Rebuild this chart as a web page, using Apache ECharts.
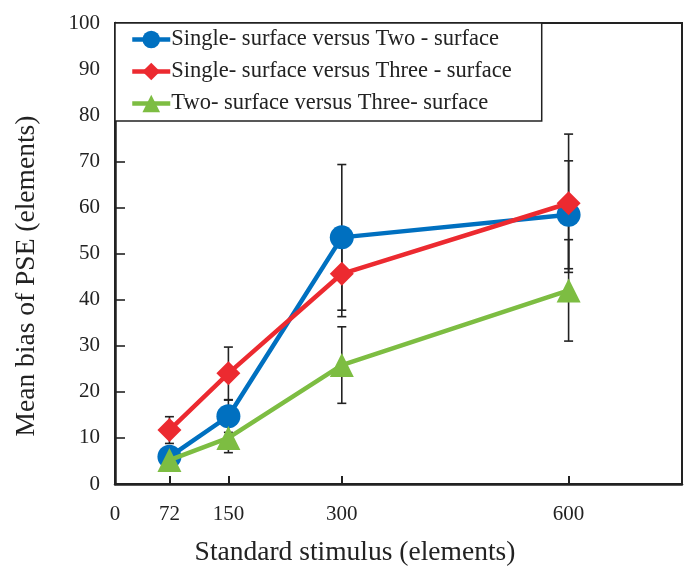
<!DOCTYPE html>
<html>
<head>
<meta charset="utf-8">
<script src="https://cdn.jsdelivr.net/npm/echarts@6/dist/echarts.min.js"></script>
<style>html,body{margin:0;padding:0;background:#fff}#c{width:690px;height:570px}</style>
</head>
<body>
<div id="c"></div>
<script>
const xValues = [72, 150, 300, 600];
const xTickLabels = [0, 72, 150, 300, 600];
const yTicks = [0, 10, 20, 30, 40, 50, 60, 70, 80, 90, 100];

const seriesNames = [
  'Single- surface versus Two - surface',
  'Single- surface versus Three - surface',
  'Two- surface versus Three- surface'
];
const singleTwo = [5.9, 14.7, 53.5, 58.4];
const singleTwoErr = [2.0, 3.5, 15.8, 11.7];
const singleThree = [11.7, 24.0, 45.6, 60.9];
const singleThreeErr = [2.9, 5.7, 9.3, 15.0];
const twoThree = [5.2, 10.0, 25.8, 42.0];
const twoThreeErr = [1.5, 3.2, 8.3, 11.0];

const colors = ['#0070C0', '#EC2A30', '#7DBD42'];
const symbols = ['circle', 'diamond', 'triangle'];
const values = [singleTwo, singleThree, twoThree];
const errs = [singleTwoErr, singleThreeErr, twoThreeErr];
const FONT = '"Liberation Serif", "DejaVu Serif", serif';

const chart = echarts.init(document.getElementById('c'), null, {renderer: 'canvas'});

const series = [];
values.forEach((vals, i) => {
  series.push({
    type: 'custom',
    z: 1,
    silent: true,
    data: vals.map((v, j) => [xValues[j], v - errs[i][j], v + errs[i][j]]),
    renderItem: function (params, api) {
      const lo = api.coord([api.value(0), api.value(1)]);
      const hi = api.coord([api.value(0), api.value(2)]);
      const hw = 4.5;
      const st = {stroke: '#222', lineWidth: 1.6};
      return {
        type: 'group',
        children: [
          {type: 'line', shape: {x1: lo[0], y1: lo[1], x2: hi[0], y2: hi[1]}, style: st},
          {type: 'line', shape: {x1: lo[0] - hw, y1: lo[1], x2: lo[0] + hw, y2: lo[1]}, style: st},
          {type: 'line', shape: {x1: hi[0] - hw, y1: hi[1], x2: hi[0] + hw, y2: hi[1]}, style: st}
        ]
      };
    }
  });
});
values.forEach((vals, i) => {
  series.push({
    name: seriesNames[i],
    type: 'line',
    z: 3 + i,
    data: vals.map((v, j) => [xValues[j], v]),
    symbol: symbols[i],
    symbolSize: 24,
    showAllSymbol: true,
    lineStyle: {color: colors[i], width: 4.5},
    itemStyle: {color: colors[i], opacity: 1},
    emphasis: {disabled: true},
    animation: false
  });
});

chart.setOption({
  animation: false,
  backgroundColor: '#fff',
  grid: {left: 115, top: 23, right: 8, bottom: 86, show: true, borderColor: '#222', borderWidth: 2, backgroundColor: 'transparent'},
  legend: {
    orient: 'vertical',
    left: 115,
    top: 23,
    data: seriesNames,
    itemWidth: 38,
    itemHeight: 22,
    itemGap: 9,
    padding: [5, 30, 6, 15],
    borderColor: '#222',
    borderWidth: 1.5,
    backgroundColor: '#fff',
    lineStyle: {width: 4.5},
    textStyle: {fontFamily: FONT, fontSize: 22.5, color: '#222', padding: [0, 0, 0, -4]}
  },
  xAxis: {
    type: 'value',
    min: 0,
    max: 750,
    splitLine: {show: false},
    axisLine: {show: true, lineStyle: {color: '#222', width: 2.5}},
    axisTick: {show: true, inside: true, length: 8, customValues: xValues, lineStyle: {color: '#222', width: 2}},
    axisLabel: {customValues: xTickLabels, margin: 20, fontFamily: FONT, fontSize: 21, color: '#222'}
  },
  yAxis: {
    type: 'value',
    min: 0,
    max: 100,
    interval: 10,
    splitLine: {show: false},
    axisLine: {show: true, lineStyle: {color: '#222', width: 2.5}},
    axisTick: {show: true, inside: true, length: 10, lineStyle: {color: '#222', width: 1.6}},
    axisLabel: {margin: 15, fontFamily: FONT, fontSize: 21, color: '#222'}
  },
  graphic: [
    {type: 'text', style: {text: 'Standard stimulus (elements)', font: '27.5px ' + FONT, fill: '#222', textAlign: 'center', textVerticalAlign: 'middle'}, position: [355, 553]},
    {type: 'text', style: {text: 'Mean bias of PSE (elements)', font: '27.5px ' + FONT, fill: '#222', textAlign: 'center', textVerticalAlign: 'middle'}, position: [27, 276], rotation: Math.PI / 2}
  ],
  series: series
});
</script>
</body>
</html>
